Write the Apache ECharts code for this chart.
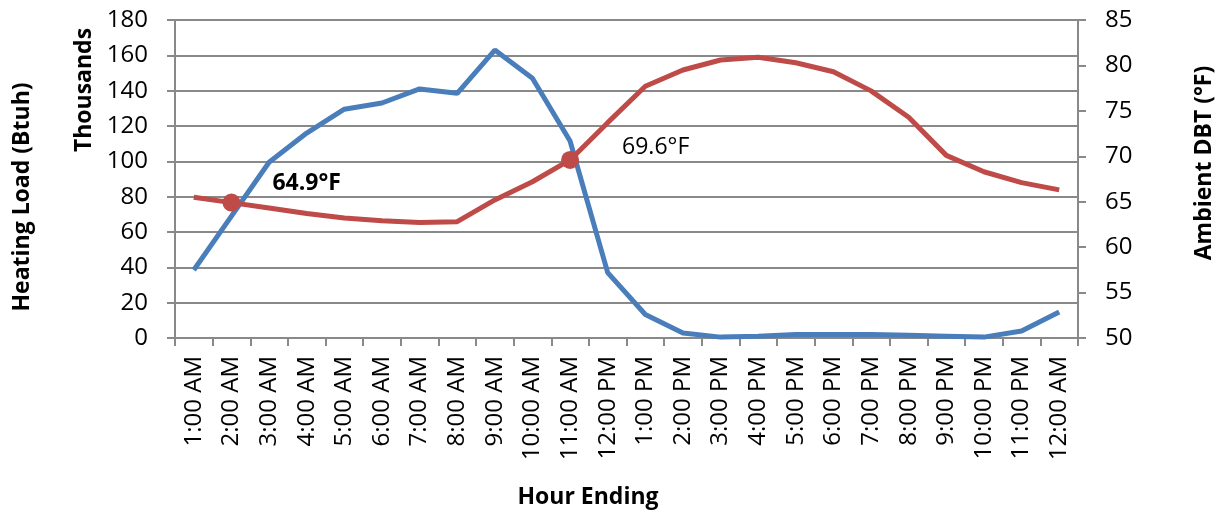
<!DOCTYPE html>
<html>
<head>
<meta charset="utf-8">
<script src="https://cdn.jsdelivr.net/npm/echarts@6/dist/echarts.min.js"></script>
<style>html,body{margin:0;padding:0;background:#fff}#c{width:1215px;height:511px}</style>
</head>
<body>
<div id="c"></div>
<script>
const categories = ['1:00 AM','2:00 AM','3:00 AM','4:00 AM','5:00 AM','6:00 AM','7:00 AM','8:00 AM','9:00 AM','10:00 AM','11:00 AM','12:00 PM','1:00 PM','2:00 PM','3:00 PM','4:00 PM','5:00 PM','6:00 PM','7:00 PM','8:00 PM','9:00 PM','10:00 PM','11:00 PM','12:00 AM'];
const heatingLoad = [38.5, 69, 99.5, 116, 129.5, 133, 141, 138.5, 163, 147, 111.5, 37, 13.3, 2.8, 0.5, 1, 2, 2, 2, 1.5, 1, 0.5, 4, 14.7];
const ambientDBT = [65.5, 64.9, 64.3, 63.7, 63.2, 62.9, 62.7, 62.8, 65.2, 67.2, 69.6, 73.7, 77.7, 79.5, 80.6, 80.9, 80.3, 79.3, 77.2, 74.3, 70.1, 68.3, 67.1, 66.3];
const highlighted = [1, 10];
const boldLabel = [1];

const font = 'Open Sans';
const grey = '#898989';
const chart = echarts.init(document.getElementById('c'));

const redData = ambientDBT.map((v, i) => {
  if (highlighted.includes(i)) {
    const bold = boldLabel.includes(i);
    return {
      value: v,
      symbol: 'circle',
      symbolSize: 18,
      label: {
        show: true,
        formatter: v.toFixed(1) + '°F',
        position: 'right',
        offset: bold ? [27, -19] : [38, -12],
        fontFamily: font,
        fontSize: 23,
        fontWeight: bold ? 'bold' : 'normal',
        color: '#000'
      }
    };
  }
  return { value: v, symbol: 'none' };
});

chart.setOption({
  animation: false,
  grid: { left: 175, right: 137, top: 20, bottom: 173 },
  xAxis: {
    type: 'category',
    data: categories,
    boundaryGap: true,
    axisLine: { lineStyle: { color: grey, width: 2 } },
    axisTick: { show: true, length: 8, lineStyle: { color: grey, width: 2 } },
    axisLabel: { rotate: 90, interval: 0, fontFamily: font, fontSize: 24, color: '#000', margin: 18 }
  },
  yAxis: [
    {
      type: 'value', min: 0, max: 180, interval: 20,
      axisLine: { show: true, lineStyle: { color: grey, width: 2 } },
      axisTick: { show: true, length: 8, lineStyle: { color: grey, width: 2 } },
      splitLine: { lineStyle: { color: grey, width: 2 } },
      axisLabel: { fontFamily: font, fontSize: 24, color: '#000', margin: 27 }
    },
    {
      type: 'value', min: 50, max: 85, interval: 5,
      position: 'right',
      axisLine: { show: true, lineStyle: { color: grey, width: 2 } },
      axisTick: { show: true, length: 8, lineStyle: { color: grey, width: 2 } },
      splitLine: { show: false },
      axisLabel: { fontFamily: font, fontSize: 24, color: '#000', margin: 27 }
    }
  ],
  series: [
    {
      type: 'line', yAxisIndex: 0, data: heatingLoad,
      symbol: 'none', lineStyle: { color: '#4A7EBB', width: 5 }, itemStyle: { color: '#4A7EBB' }, z: 3
    },
    {
      type: 'line', yAxisIndex: 1, data: redData,
      showSymbol: true, lineStyle: { color: '#BE4B48', width: 5 }, itemStyle: { color: '#BE4B48' }, z: 4
    }
  ],
  graphic: [
    { type: 'text', rotation: Math.PI / 2, x: 22, y: 197,
      style: { text: 'Heating Load (Btuh)', font: 'bold 23px "Open Sans"', fill: '#000', align: 'center', verticalAlign: 'middle' } },
    { type: 'text', rotation: Math.PI / 2, x: 84, y: 90,
      style: { text: 'Thousands', font: 'bold 23px "Open Sans"', fill: '#000', align: 'center', verticalAlign: 'middle' } },
    { type: 'text', rotation: Math.PI / 2, x: 1204, y: 163,
      style: { text: 'Ambient DBT (°F)', font: 'bold 23px "Open Sans"', fill: '#000', align: 'center', verticalAlign: 'middle' } },
    { type: 'text', x: 588, y: 497,
      style: { text: 'Hour Ending', font: 'bold 23px "Open Sans"', fill: '#000', align: 'center', verticalAlign: 'middle' } }
  ]
});
</script>
</body>
</html>
